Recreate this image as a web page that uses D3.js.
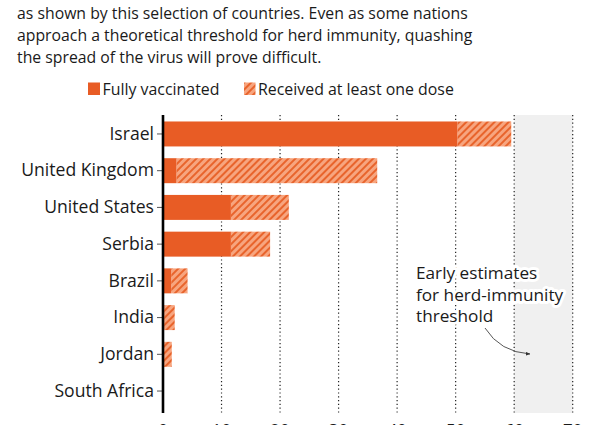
<!DOCTYPE html>
<html><head><meta charset="utf-8">
<script src="https://cdn.jsdelivr.net/npm/d3@7"></script>
<style>
html,body{margin:0;padding:0;background:#fff;overflow:hidden}
text{font-family:"Open Sans","Noto Sans",sans-serif;fill:#1a1a1a}
</style></head>
<body><svg id="c" width="600" height="425"></svg>
<script>
const titleLines = [
  "as shown by this selection of countries. Even as some nations",
  "approach a theoretical threshold for herd immunity, quashing",
  "the spread of the virus will prove difficult."
];
const countries = ["Israel","United Kingdom","United States","Serbia","Brazil","India","Jordan","South Africa"];
const fullyVaccinated = [50.3, 2.3, 11.6, 11.6, 1.4, 0.2, 0.1, 0];
const atLeastOneDose = [59.5, 36.6, 21.5, 18.3, 4.2, 2.0, 1.5, 0.1];
const xTicks = [0,10,20,30,40,50,60,70];
const herdRange = [60, 70];
const legendLabels = ["Fully vaccinated","Received at least one dose"];
const annotationLines = ["Early estimates","for herd-immunity","threshold"];

const FULL = "#e85c25", HATCH_BG = "#f7a57f", HATCH_FG = "#e8642c";
const FONT = "'Open Sans','Noto Sans',sans-serif";

const svg = d3.select("#c");
const defs = svg.append("defs");
const pat = defs.append("pattern").attr("id","hatch").attr("patternUnits","userSpaceOnUse")
  .attr("width",5).attr("height",5).attr("patternTransform","rotate(45)");
pat.append("rect").attr("width",5).attr("height",5).attr("fill",HATCH_BG);
pat.append("rect").attr("x",0).attr("width",2).attr("height",5).attr("fill",HATCH_FG);
defs.append("marker").attr("id","arr").attr("viewBox","0 0 10 10").attr("refX",9).attr("refY",5)
  .attr("markerWidth",5).attr("markerHeight",5).attr("orient","auto")
  .append("path").attr("d","M0,1 L10,5 L0,9 Z").attr("fill","#333");

// title
svg.append("g").selectAll("text").data(titleLines).join("text")
  .attr("x",17).attr("y",(d,i)=>19+i*21.8).attr("font-size",15.8).text(d=>d);

const x = d3.scaleLinear().domain([0,70]).range([163,572.7]);
const y = d3.scaleBand().domain(countries).range([115.6,409.4]).paddingInner(0.32).paddingOuter(0.16);
const plotTop = 115, plotBottom = 413;

// shaded herd-immunity region
svg.append("rect").attr("x",x(herdRange[0])).attr("y",plotTop)
  .attr("width",x(herdRange[1])-x(herdRange[0])).attr("height",plotBottom-plotTop).attr("fill","#f0f0f0");

// gridlines
svg.append("g").selectAll("line").data(xTicks.filter(d=>d>0)).join("line")
  .attr("x1",d=>x(d)).attr("x2",d=>x(d)).attr("y1",plotTop).attr("y2",plotBottom)
  .attr("stroke","#222").attr("stroke-width",1.2).attr("stroke-dasharray","1.2,2.6");

// annotation text with white halo
const ann = svg.append("g");
ann.selectAll("text").data(annotationLines).join("text")
  .attr("x",416).attr("y",(d,i)=>279+i*21.5).attr("font-size",17.2)
  .attr("stroke","#fff").attr("stroke-width",6).attr("stroke-linejoin","round")
  .attr("paint-order","stroke").text(d=>d);
svg.append("path").attr("d","M485,328 Q500,352 530,354").attr("fill","none")
  .attr("stroke","#444").attr("stroke-width",0.9).attr("marker-end","url(#arr)");

// bars
const rows = countries.map((c,i)=>({c, full: fullyVaccinated[i], one: atLeastOneDose[i]}));
svg.append("g").selectAll("rect").data(rows).join("rect")
  .attr("x",d=>x(d.full)).attr("y",d=>y(d.c)).attr("height",y.bandwidth())
  .attr("width",d=>Math.max(0,x(d.one)-x(d.full))).attr("fill","url(#hatch)");
svg.append("g").selectAll("rect").data(rows).join("rect")
  .attr("x",x(0)).attr("y",d=>y(d.c)).attr("height",y.bandwidth())
  .attr("width",d=>x(d.full)-x(0)).attr("fill",FULL);

// y axis
const yAxis = d3.axisLeft(y).tickSize(6).tickPadding(3);
const gy = svg.append("g").attr("transform",`translate(${x(0)},0)`).call(yAxis);
gy.select(".domain").remove();
gy.selectAll(".tick line").attr("stroke","#555").attr("stroke-width",1);
gy.selectAll(".tick text").attr("font-size",17.6).attr("font-family",FONT).attr("fill","#1a1a1a");
svg.append("line").attr("x1",x(0)).attr("x2",x(0)).attr("y1",plotTop).attr("y2",plotBottom)
  .attr("stroke","#000").attr("stroke-width",2.6);

// x tick labels (mostly cut off at bottom, as in the source)
svg.append("g").selectAll("text").data(xTicks).join("text")
  .attr("x",d=>x(d)).attr("y",436).attr("text-anchor","middle").attr("font-size",17).text(d=>d);

// legend
svg.append("rect").attr("x",88).attr("y",82.5).attr("width",12).attr("height",12.5).attr("fill",FULL);
svg.append("text").attr("x",102.5).attr("y",95).attr("font-size",15.9).text(legendLabels[0]);
svg.append("rect").attr("x",244).attr("y",82.5).attr("width",11.5).attr("height",12.5).attr("fill","url(#hatch)");
svg.append("text").attr("x",258).attr("y",95).attr("font-size",15.9).text(legendLabels[1]);
</script></body></html>
